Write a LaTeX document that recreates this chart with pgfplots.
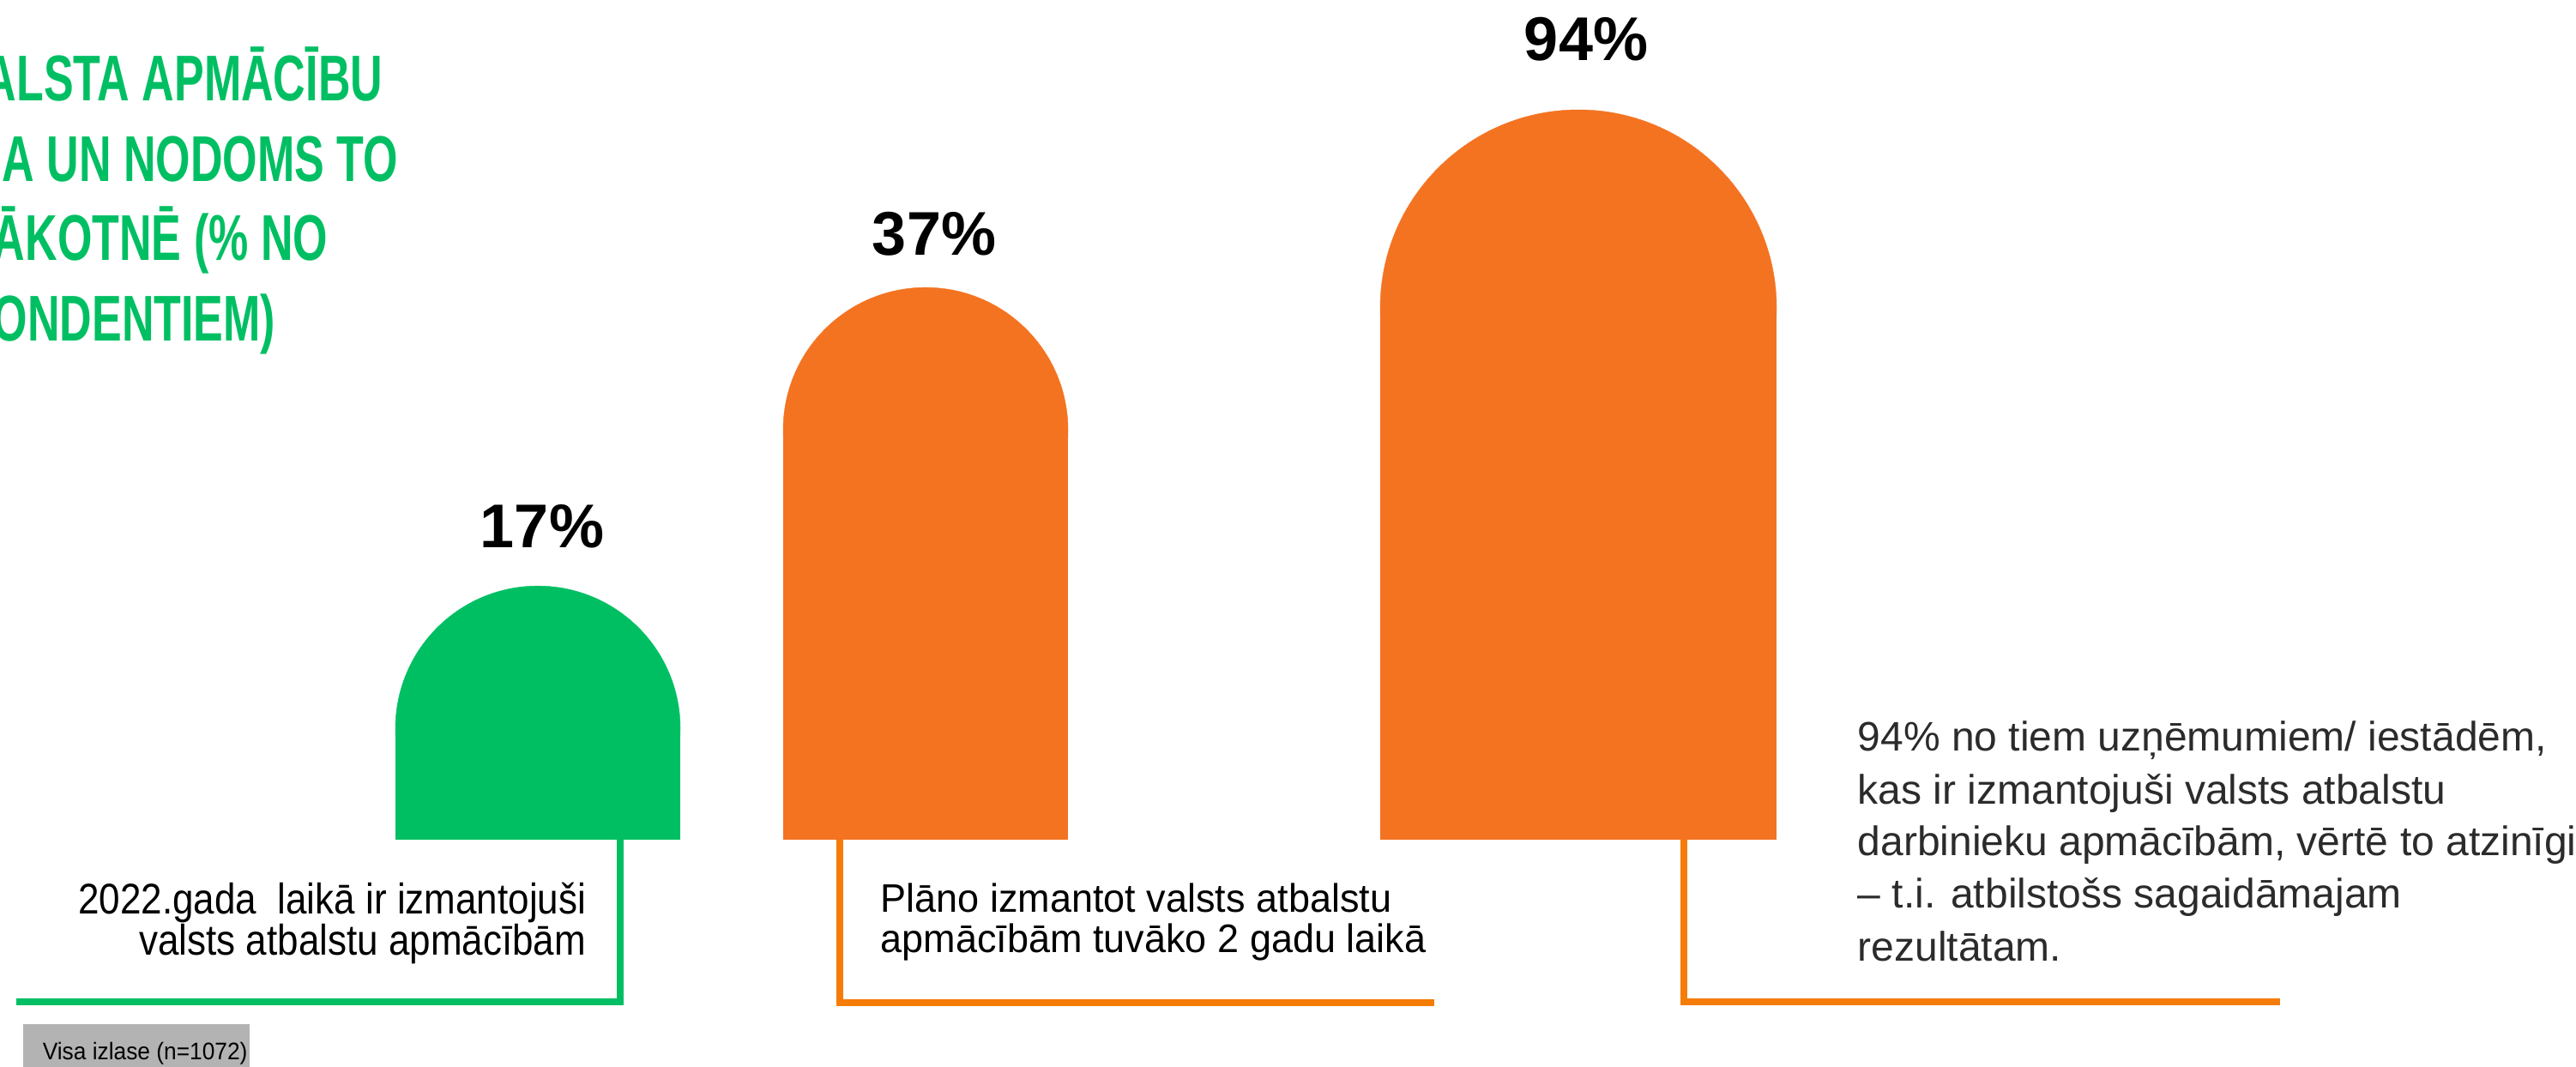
\documentclass[border=0pt]{standalone}
\usepackage{pgfplots}
\pgfplotsset{compat=1.18}
\usepackage{fontspec}
\setmainfont{Liberation Sans}
\newfontfamily\titlefont[FakeStretch=0.69]{Liberation Sans}
\newfontfamily\condfont[FakeStretch=0.88]{Liberation Sans}
\newfontfamily\midfont[FakeStretch=0.97]{Liberation Sans}
\newfontfamily\notefont[FakeStretch=0.94]{Liberation Sans}
\definecolor{pgreen}{HTML}{00BF63}
\definecolor{porange}{HTML}{F37321}
\definecolor{lorange}{HTML}{F57C06}
\definecolor{txtgray}{HTML}{2B2B2B}
\definecolor{boxgray}{HTML}{B3B3B3}

\begin{document}
\begin{tikzpicture}
\useasboundingbox (0,0) rectangle (750.75pt,311pt);
\clip (0,0) rectangle (750.75pt,311pt);
\pgfplotsset{frame/.style={at={(0,0)}, anchor=south west, scale only axis,
  width=750.75pt, height=311pt, xmin=0, xmax=3003, hide axis, clip=false},
  barax/.style={at={(0,66.25pt)}, anchor=south west, scale only axis,
  width=750.75pt, height=244.75pt, xmin=0, xmax=3003, ymin=0, hide axis,
  clip=true, clip marker paths=true}}

% ---------- frame axis in pixel units (y downwards) ----------
\begin{axis}[frame, ymin=0, ymax=1244, y dir=reverse]
\addplot[pgreen, line width=2pt, line join=miter] coordinates {(19,1168) (723,1168) (723,979)};
\addplot[lorange, line width=2pt, line join=miter] coordinates {(979,979) (979,1169) (1672,1169)};
\addplot[lorange, line width=2pt, line join=miter] coordinates {(1963,979) (1963,1168) (2658,1168)};
\addplot[fill=boxgray, draw=none] coordinates {(27,1194) (291,1194) (291,1250) (27,1250)} -- cycle;

% title (clipped at left edge, as in the original)
\begin{scope}[every node/.style={text=pgreen, inner sep=0pt, anchor=base east,
   font=\titlefont\bfseries\fontsize{18.85}{22}\selectfont}]
\node at (axis cs:447,117) {ATBALSTA APMĀCĪBU};
\node at (axis cs:465,211) {IZMANTOŠANA UN NODOMS TO};
\node at (axis cs:383,303) {NĀKOTNĒ (\% NO};
\node at (axis cs:322,397) {RESPONDENTIEM)};
\end{scope}

% text 1
\begin{scope}[every node/.style={inner sep=0pt, anchor=base east,
   font=\condfont\fontsize{12.5}{14}\selectfont}]
\node at (axis cs:684,1065) {2022.gada\ \ laikā ir izmantojuši};
\node at (axis cs:684,1113) {valsts atbalstu apmācībām};
\end{scope}
% text 2
\begin{scope}[every node/.style={inner sep=0pt, anchor=base west,
   font=\midfont\fontsize{11.6}{14}\selectfont}]
\node at (axis cs:1026,1063) {Plāno izmantot valsts atbalstu};
\node at (axis cs:1026,1110) {apmācībām tuvāko 2 gadu laikā};
\end{scope}
% text 3
\begin{scope}[every node/.style={inner sep=0pt, anchor=base west, text=txtgray,
   font=\fontsize{12}{15}\selectfont}]
\node at (axis cs:2165,875) {94\% no tiem uzņēmumiem/ iestādēm,};
\node at (axis cs:2165,937) {kas ir izmantojuši valsts atbalstu};
\node at (axis cs:2165,997) {darbinieku apmācībām, vērtē to atzinīgi};
\node at (axis cs:2165,1058) {– t.i. atbilstošs sagaidāmajam};
\node at (axis cs:2165,1120) {rezultātam.};
\end{scope}
\node[inner sep=0pt, anchor=base west, font=\notefont\fontsize{7}{8}\selectfont]
  at (axis cs:49,1235) {Visa izlase (n=1072)};
\end{axis}

% ---------- bars 1 and 2 (17.4 px per %) ----------
\begin{axis}[barax, ymax=56.264]
\addplot[ybar, bar width=332, bar shift=0pt, fill=pgreen, draw=none]
  table[x=x, y expr=\thisrow{v}-9.54] {
x v
627 17
};
\addplot[pgreen, only marks, mark=*, mark size=41.5pt, mark options={fill=pgreen, draw=pgreen, line width=0.1pt}]
  table[x=x, y expr=\thisrow{v}-9.54] {
x v
627 17
};
\addplot[ybar, bar width=332, bar shift=0pt, fill=porange, draw=none]
  table[x=x, y expr=\thisrow{v}-9.54] {
x v
1079 37
};
\addplot[porange, only marks, mark=*, mark size=41.5pt, mark options={fill=porange, draw=porange, line width=0.1pt}]
  table[x=x, y expr=\thisrow{v}-9.54] {
x v
1079 37
};
\node[anchor=base, inner sep=0pt, font=\bfseries\fontsize{18}{20}\selectfont]
  at (axis cs:632,17) [yshift=11.25pt] {17\%};
\node[anchor=base, inner sep=0pt, font=\bfseries\fontsize{18}{20}\selectfont]
  at (axis cs:1089,37) [yshift=9.5pt] {37\%};
\end{axis}

% ---------- bar 3 (its own scale: 9.053 px per %) ----------
\begin{axis}[barax, ymax=108.139]
\addplot[ybar, bar width=462, bar shift=0pt, fill=porange, draw=none]
  table[x=x, y expr=\thisrow{v}-25.516] {
x v
1840 94
};
\addplot[porange, only marks, mark=*, mark size=57.75pt, mark options={fill=porange, draw=porange, line width=0.1pt}]
  table[x=x, y expr=\thisrow{v}-25.516] {
x v
1840 94
};
\node[anchor=base, inner sep=0pt, font=\bfseries\fontsize{18}{20}\selectfont]
  at (axis cs:1849,94) [yshift=14.25pt] {94\%};
\end{axis}
\end{tikzpicture}
\end{document}
